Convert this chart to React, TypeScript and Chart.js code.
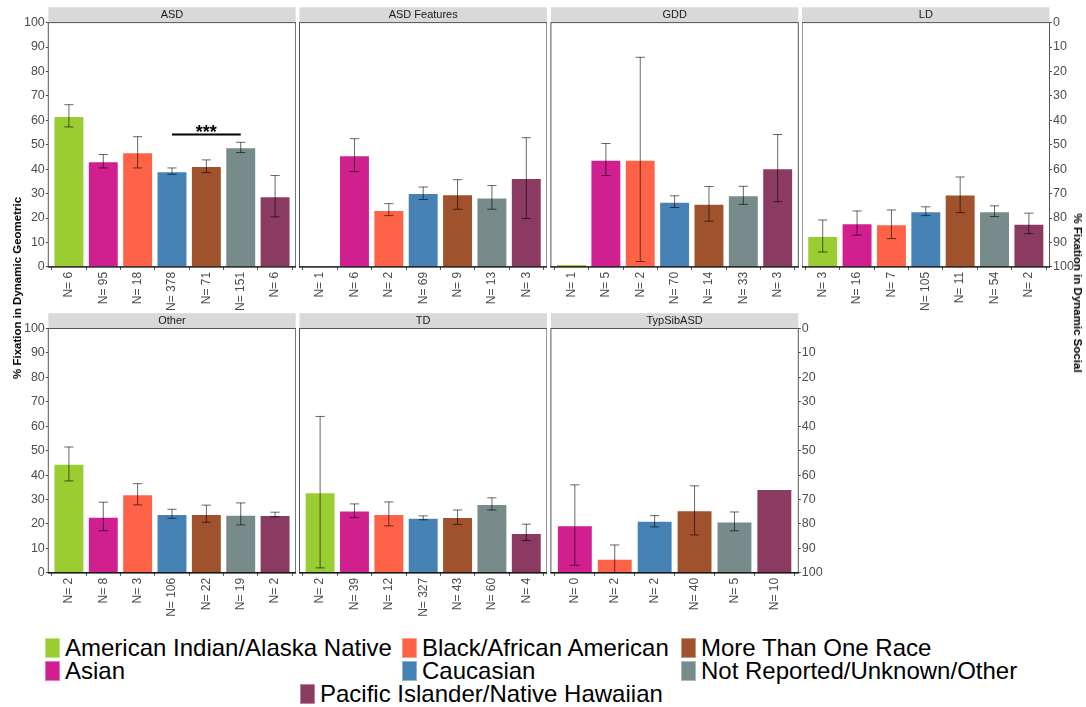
import React, { useEffect, useRef } from 'react';
import { Chart, registerables } from 'chart.js';

Chart.register(...registerables);

// ---------------- data ----------------
const RACES = [
  'American Indian/Alaska Native',
  'Asian',
  'Black/African American',
  'Caucasian',
  'More Than One Race',
  'Not Reported/Unknown/Other',
  'Pacific Islander/Native Hawaiian',
];
const RACE_COLORS = ['#9ACD32', '#D02090', '#FF6347', '#4682B4', '#A0522D', '#778B8B', '#8B3A62'];

const FACETS = ['ASD', 'ASD Features', 'GDD', 'LD', 'Other', 'TD', 'TypSibASD'];

const ALL_RACE = [0, 1, 2, 3, 4, 5, 6];
const SIB_RACE = [1, 2, 3, 4, 5, 6];

const ASD_N = [6, 95, 18, 378, 71, 151, 6];
const ASD_MEAN = [61.8, 43.2, 46.9, 39.2, 41.3, 49.0, 28.9];
const ASD_LO = [57.3, 40.5, 40.5, 37.9, 38.6, 46.8, 20.5];
const ASD_HI = [66.4, 46.0, 53.3, 40.5, 43.8, 51.0, 37.4];

const ASDF_N = [1, 6, 2, 69, 9, 13, 3];
const ASDF_MEAN = [null, 45.7, 23.3, 30.3, 29.7, 28.4, 36.4];
const ASDF_LO = [null, 39.0, 21.0, 27.6, 23.6, 23.6, 19.8];
const ASDF_HI = [null, 52.5, 25.9, 32.7, 35.7, 33.3, 52.9];

const GDD_N = [1, 5, 2, 70, 14, 33, 3];
const GDD_MEAN = [1.2, 43.9, 43.9, 26.7, 25.8, 29.3, 40.4];
const GDD_LO = [null, 37.4, 2.2, 24.3, 18.7, 25.6, 26.7];
const GDD_HI = [null, 50.5, 85.8, 29.1, 32.9, 33.0, 54.2];

const LD_N = [3, 16, 7, 105, 11, 54, 2];
const LD_MEAN = [12.6, 17.9, 17.5, 22.8, 29.6, 22.8, 17.7];
const LD_LO = [6.1, 13.0, 11.6, 21.0, 22.2, 20.6, 13.6];
const LD_HI = [19.2, 22.9, 23.3, 24.6, 36.8, 25.0, 22.0];

const OTHER_N = [2, 8, 3, 106, 22, 19, 2];
const OTHER_MEAN = [44.6, 22.9, 32.2, 24.1, 24.1, 23.8, 23.7];
const OTHER_LO = [37.6, 17.2, 27.8, 22.3, 20.7, 19.6, 22.9];
const OTHER_HI = [51.5, 28.9, 36.5, 26.0, 27.7, 28.6, 24.8];

const TD_N = [2, 39, 12, 327, 43, 60, 4];
const TD_MEAN = [33.0, 25.5, 24.1, 22.5, 22.8, 28.2, 16.3];
const TD_LO = [2.0, 22.6, 19.2, 21.7, 19.8, 25.7, 13.2];
const TD_HI = [64.0, 28.2, 29.0, 23.3, 25.7, 30.7, 19.9];

const SIB_N = [0, 2, 2, 40, 5, 10];
const SIB_MEAN = [19.5, 5.7, 21.3, 25.6, 21.0, 34.3];
const SIB_LO = [3.1, -0.5, 18.8, 15.5, 17.2, null];
const SIB_HI = [36.0, 11.4, 23.4, 35.6, 24.9, null];

// significance bracket in ASD panel (category positions 1-based)
const SIG_FROM = 4;
const SIG_TO = 6;
const SIG_Y = 54.2;
const SIG_LABEL = '***';

const Y_TICKS = [0, 10, 20, 30, 40, 50, 60, 70, 80, 90, 100];

const LEFT_TITLE = '% Fixation in Dynamic Geometric';
const RIGHT_TITLE = '% Fixation in Dynamic Social';

// ---------------- layout ----------------
const FONT = '"Liberation Sans", Arial, Helvetica, sans-serif';
const PANEL_LEFTS = [48.3, 299.5, 550.9, 802.1];
const PANEL_W = 247.4;
const PLOT_TOPS = [22.6, 328.5];
const PLOT_H = 244.3;
const STRIP_H = 15.3;
const X_AXIS_H = 46;
const LEFT_AXIS_W = 48.3;
const RIGHT_AXIS_W = 30;

type PanelDef = {
  title: string;
  race: number[];
  n: number[];
  mean: (number | null)[];
  lo: (number | null)[];
  hi: (number | null)[];
  col: number;
  row: number;
  sig?: boolean;
};

const PANELS: PanelDef[] = [
  { title: FACETS[0], race: ALL_RACE, n: ASD_N, mean: ASD_MEAN, lo: ASD_LO, hi: ASD_HI, col: 0, row: 0, sig: true },
  { title: FACETS[1], race: ALL_RACE, n: ASDF_N, mean: ASDF_MEAN, lo: ASDF_LO, hi: ASDF_HI, col: 1, row: 0 },
  { title: FACETS[2], race: ALL_RACE, n: GDD_N, mean: GDD_MEAN, lo: GDD_LO, hi: GDD_HI, col: 2, row: 0 },
  { title: FACETS[3], race: ALL_RACE, n: LD_N, mean: LD_MEAN, lo: LD_LO, hi: LD_HI, col: 3, row: 0 },
  { title: FACETS[4], race: ALL_RACE, n: OTHER_N, mean: OTHER_MEAN, lo: OTHER_LO, hi: OTHER_HI, col: 0, row: 1 },
  { title: FACETS[5], race: ALL_RACE, n: TD_N, mean: TD_MEAN, lo: TD_LO, hi: TD_HI, col: 1, row: 1 },
  { title: FACETS[6], race: SIB_RACE, n: SIB_N, mean: SIB_MEAN, lo: SIB_LO, hi: SIB_HI, col: 2, row: 1 },
];

function geometry(p: PanelDef) {
  const hasLeft = p.col === 0;
  const hasRight = (p.row === 0 && p.col === 3) || (p.row === 1 && p.col === 2);
  const panelLeft = PANEL_LEFTS[p.col];
  const plotTop = PLOT_TOPS[p.row];
  const stripTop = plotTop - STRIP_H;
  const lw = hasLeft ? LEFT_AXIS_W : 0;
  const rw = hasRight ? RIGHT_AXIS_W : 0;
  const cLeft = Math.floor(panelLeft - lw);
  const cRight = Math.ceil(panelLeft + PANEL_W + rw);
  const cTop = Math.floor(stripTop);
  const cBottom = Math.ceil(plotTop + PLOT_H + X_AXIS_H);
  return {
    hasLeft,
    hasRight,
    cLeft,
    cTop,
    width: cRight - cLeft,
    height: cBottom - cTop,
    padLeft: panelLeft - lw - cLeft,
    padRight: cRight - (panelLeft + PANEL_W + rw),
    padTop: plotTop - cTop,
    padBottom: cBottom - (plotTop + PLOT_H + X_AXIS_H),
    stripTopC: stripTop - cTop,
    lw,
    rw,
  };
}

function makeChart(canvas: HTMLCanvasElement, p: PanelDef) {
  const g = geometry(p);
  const count = p.race.length;

  const decoPlugin = {
    id: 'deco' + p.title.replace(/\s/g, ''),
    beforeDraw(chart: any) {
      const ctx = chart.ctx;
      const ca = chart.chartArea;
      ctx.save();
      ctx.fillStyle = '#D9D9D9';
      ctx.fillRect(ca.left, g.stripTopC, ca.right - ca.left, ca.top - g.stripTopC);
      ctx.fillStyle = '#1A1A1A';
      ctx.font = '11px ' + FONT;
      ctx.textAlign = 'center';
      ctx.textBaseline = 'middle';
      ctx.fillText(p.title, (ca.left + ca.right) / 2, (g.stripTopC + ca.top) / 2 + 0.5);
      ctx.restore();
    },
    afterDatasetsDraw(chart: any) {
      const ctx = chart.ctx;
      const ca = chart.chartArea;
      const xs = chart.scales.x;
      const ys = chart.scales.y;
      ctx.save();
      ctx.beginPath();
      ctx.rect(ca.left, ca.top, ca.right - ca.left, ca.bottom - ca.top);
      ctx.clip();
      ctx.strokeStyle = 'rgba(0,0,0,0.6)';
      ctx.lineWidth = 1;
      const cap = 4.6;
      for (let i = 0; i < count; i++) {
        const lo = p.lo[i];
        const hi = p.hi[i];
        if (lo == null || hi == null) continue;
        const x = xs.getPixelForValue(i + 1);
        const y1 = ys.getPixelForValue(lo);
        const y2 = ys.getPixelForValue(hi);
        ctx.beginPath();
        ctx.moveTo(x, y1);
        ctx.lineTo(x, y2);
        ctx.moveTo(x - cap, y1);
        ctx.lineTo(x + cap, y1);
        ctx.moveTo(x - cap, y2);
        ctx.lineTo(x + cap, y2);
        ctx.stroke();
      }
      if (p.sig) {
        const sx1 = xs.getPixelForValue(SIG_FROM);
        const sx2 = xs.getPixelForValue(SIG_TO);
        const sy = ys.getPixelForValue(SIG_Y);
        ctx.strokeStyle = '#000';
        ctx.lineWidth = 2.2;
        ctx.beginPath();
        ctx.moveTo(sx1, sy);
        ctx.lineTo(sx2, sy);
        ctx.stroke();
        ctx.fillStyle = '#000';
        ctx.font = 'bold 18px ' + FONT;
        ctx.textAlign = 'center';
        ctx.textBaseline = 'alphabetic';
        ctx.fillText(SIG_LABEL, (sx1 + sx2) / 2, sy + 3.5);
      }
      ctx.restore();
    },
    afterDraw(chart: any) {
      const ctx = chart.ctx;
      const ca = chart.chartArea;
      ctx.save();
      ctx.strokeStyle = '#555555';
      ctx.lineWidth = 1;
      ctx.strokeRect(ca.left, ca.top, ca.right - ca.left, ca.bottom - ca.top);
      ctx.strokeStyle = '#1A1A1A';
      ctx.lineWidth = 1.4;
      ctx.beginPath();
      ctx.moveTo(ca.left - 0.5, ca.bottom);
      ctx.lineTo(ca.right + 0.5, ca.bottom);
      ctx.stroke();
      ctx.restore();
    },
  };

  const tickFont = { family: FONT, size: 12 };
  const yTickFont = { family: FONT, size: 12.5 };
  const yGrid = { display: true, drawOnChartArea: false, drawTicks: true, tickLength: 2.5, tickColor: '#4D4D4D' };

  const scales: any = {
    x: {
      type: 'linear',
      min: 0.4,
      max: count + 0.6,
      offset: false,
      afterBuildTicks: (s: any) => {
        s.ticks = p.n.map((_, i) => ({ value: i + 1 }));
      },
      afterFit: (s: any) => {
        s.height = X_AXIS_H;
        s.paddingLeft = 0;
        s.paddingRight = 0;
      },
      ticks: {
        autoSkip: false,
        minRotation: 90,
        maxRotation: 90,
        padding: 2,
        color: '#4D4D4D',
        font: tickFont,
        callback: (_v: any, idx: number) => 'N= ' + p.n[idx],
      },
      grid: { display: true, drawOnChartArea: false, drawTicks: true, tickLength: 3, tickColor: '#4D4D4D' },
      border: { display: false },
    },
    y: {
      type: 'linear',
      display: g.hasLeft,
      min: 0,
      max: 100,
      position: 'left',
      afterBuildTicks: (s: any) => {
        s.ticks = Y_TICKS.map((v) => ({ value: v }));
      },
      afterFit: (s: any) => {
        s.width = g.lw;
        s.paddingTop = 0;
        s.paddingBottom = 0;
      },
      ticks: { padding: 1, color: '#4D4D4D', font: yTickFont },
      grid: yGrid,
      border: { display: false },
    },
  };
  if (g.hasRight) {
    scales.y2 = {
      type: 'linear',
      display: true,
      min: 0,
      max: 100,
      reverse: true,
      position: 'right',
      afterBuildTicks: (s: any) => {
        s.ticks = Y_TICKS.map((v) => ({ value: v }));
      },
      afterFit: (s: any) => {
        s.width = g.rw;
        s.paddingTop = 0;
        s.paddingBottom = 0;
      },
      ticks: { padding: 1, color: '#4D4D4D', font: yTickFont },
      grid: yGrid,
      border: { display: false },
    };
  }

  return new Chart(canvas, {
    type: 'bar',
    data: {
      datasets: [
        {
          data: p.mean.map((v, i) => ({ x: i + 1, y: v })) as any,
          backgroundColor: p.race.map((r) => RACE_COLORS[r]),
          borderColor: 'rgba(255,255,255,0.45)',
          borderWidth: 1,
          barPercentage: 0.9,
          categoryPercentage: 1,
        },
      ],
    },
    options: {
      responsive: false,
      animation: false,
      devicePixelRatio: 1,
      layout: {
        padding: { left: g.padLeft, right: g.padRight, top: g.padTop, bottom: g.padBottom },
      },
      plugins: {
        legend: { display: false },
        tooltip: { enabled: false },
      },
      scales,
    },
    plugins: [decoPlugin],
  });
}

// legend placement (layout only)
const LEGEND_SLOTS: [number, number][] = [
  [45, 648],
  [45, 671],
  [402, 648],
  [402, 671],
  [681, 648],
  [681, 671],
  [300, 694],
];

export default function App() {
  const refs = useRef<(HTMLCanvasElement | null)[]>([]);

  useEffect(() => {
    const charts = PANELS.map((p, i) => makeChart(refs.current[i] as HTMLCanvasElement, p));
    return () => charts.forEach((c) => c.destroy());
  }, []);

  return (
    <div
      style={{
        position: 'absolute',
        left: 0,
        top: 0,
        width: 1086,
        height: 707,
        background: '#ffffff',
        overflow: 'hidden',
        fontFamily: FONT,
      }}
    >
      {PANELS.map((p, i) => {
        const g = geometry(p);
        return (
          <canvas
            key={p.title}
            ref={(el) => {
              refs.current[i] = el;
            }}
            width={g.width}
            height={g.height}
            style={{ position: 'absolute', left: g.cLeft, top: g.cTop, width: g.width, height: g.height }}
          />
        );
      })}
      <div
        style={{
          position: 'absolute',
          left: 17,
          top: 288,
          transform: 'translate(-50%, -50%) rotate(-90deg)',
          whiteSpace: 'nowrap',
          fontWeight: 'bold',
          fontSize: 11.5,
          color: '#000',
        }}
      >
        {LEFT_TITLE}
      </div>
      <div
        style={{
          position: 'absolute',
          left: 1078,
          top: 293,
          transform: 'translate(-50%, -50%) rotate(90deg)',
          whiteSpace: 'nowrap',
          fontWeight: 'bold',
          fontSize: 11.5,
          color: '#000',
        }}
      >
        {RIGHT_TITLE}
      </div>
      {RACES.map((name, i) => {
        const [x, y] = LEGEND_SLOTS[i];
        return (
          <div
            key={name}
            style={{
              position: 'absolute',
              left: x,
              top: y - 11,
              height: 22,
              display: 'flex',
              alignItems: 'center',
              whiteSpace: 'nowrap',
            }}
          >
            <div
              style={{
                width: 15,
                height: 20,
                background: RACE_COLORS[i],
                boxSizing: 'border-box',
                border: '1px solid rgba(255,255,255,0.4)',
                marginRight: 5,
              }}
            />
            <span style={{ fontSize: 24, lineHeight: '22px', color: '#000' }}>{name}</span>
          </div>
        );
      })}
    </div>
  );
}
